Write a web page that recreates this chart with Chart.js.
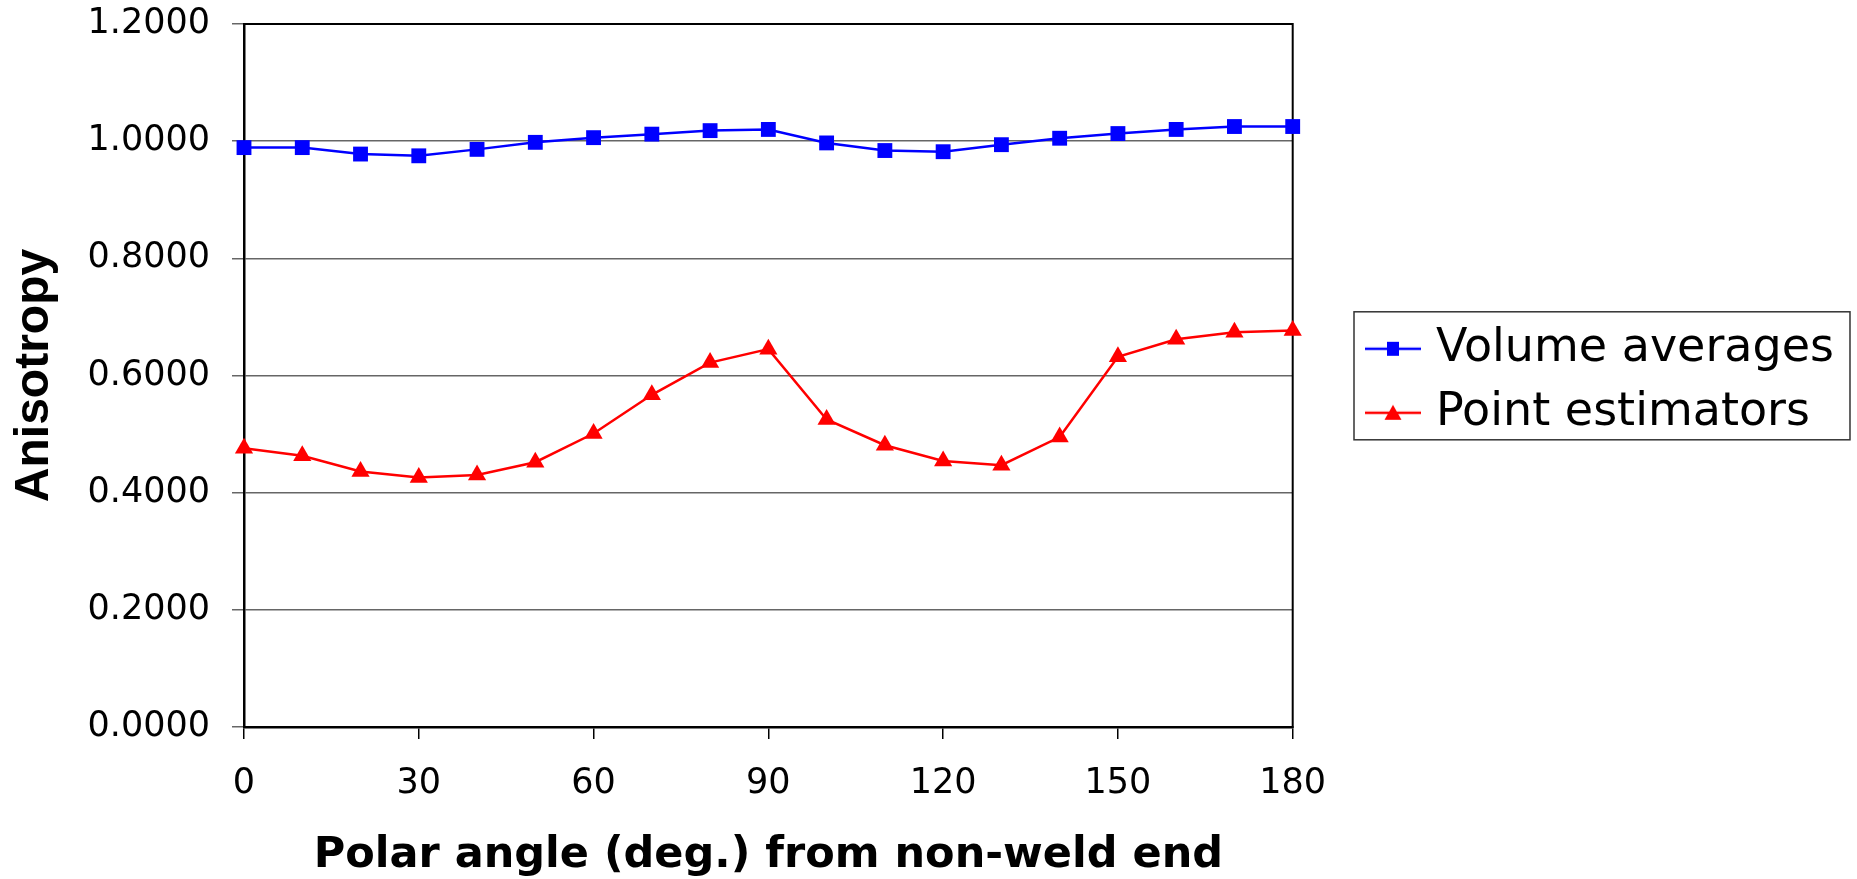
<!DOCTYPE html>
<html>

<head>
    <title>Anisotropy vs polar angle</title>
    <script src="https://cdn.jsdelivr.net/npm/chart.js@4.4.1/dist/chart.umd.min.js"></script>
    <style>
        html, body { margin: 0; padding: 0; background: #ffffff; }
        #wrap { width: 1857px; height: 879px; }
    </style>
</head>

<body>
    <div id="wrap"><canvas id="anisoChart" width="1857" height="879"></canvas></div>

    <script>
        // polar angle (deg.) from the non-weld end
        var angles = [0, 10, 20, 30, 40, 50, 60, 70, 80, 90, 100, 110, 120, 130, 140, 150, 160, 170, 180];
        var volumeAverages = [0.989, 0.989, 0.978, 0.975, 0.986, 0.998, 1.006, 1.012, 1.018, 1.020,
            0.997, 0.984, 0.982, 0.994, 1.005, 1.013, 1.020, 1.025, 1.025];
        var pointEstimators = [0.476, 0.463, 0.436, 0.426, 0.430, 0.452, 0.501, 0.567, 0.622, 0.645,
            0.525, 0.481, 0.454, 0.447, 0.495, 0.632, 0.662, 0.674, 0.677];
        var seriesNames = ['Volume averages', 'Point estimators'];
        var yTicks = [0, 0.2, 0.4, 0.6, 0.8, 1.0, 1.2];
        var xTicks = [0, 30, 60, 90, 120, 150, 180];

        var plotRight = 1292.7;
        var legendFont = { family: "'DejaVu Sans'", size: 46 };

        // little line-with-marker icons for the legend, Excel style
        function legendIcon(color, shape) {
            var c = document.createElement('canvas');
            c.width = 56; c.height = 18;
            var g = c.getContext('2d');
            g.strokeStyle = color; g.fillStyle = color; g.lineWidth = 2.5;
            g.beginPath(); g.moveTo(0, 9); g.lineTo(56, 9); g.stroke();
            if (shape === 'rect') {
                g.fillRect(22, 2, 12, 14);
            } else {
                g.beginPath(); g.moveTo(28, 1); g.lineTo(36.5, 16); g.lineTo(19.5, 16); g.closePath(); g.fill();
            }
            return c;
        }
        var icons = [legendIcon('#0000ff', 'rect'), legendIcon('#ff0000', 'tri')];

        // first guess at the right padding; corrected after the first layout
        var mctx = document.createElement('canvas').getContext('2d');
        mctx.font = legendFont.size + "px 'DejaVu Sans'";
        var textW = Math.max.apply(null, seriesNames.map(function (s) { return mctx.measureText(s).width; }));
        var legendPad = 18, iconBox = 40;
        var padRight = 1857 - plotRight - (legendPad + iconBox + legendFont.size / 2 + textW);

        var framePlugin = {
            id: 'frame',
            afterLayout: function (chart) {
                var lg = chart.legend;
                var dx = 1355 - lg.left, dy = 307.8 - lg.top;
                lg.left += dx; lg.top += dy;
                lg.right = 1857; lg.width = lg.right - lg.left;
            },
            beforeDatasetsDraw: function (chart) {
                var a = chart.chartArea, ctx = chart.ctx;
                ctx.save();
                ctx.strokeStyle = '#000000';
                ctx.lineWidth = 2;
                ctx.strokeRect(a.left, a.top, a.right - a.left, a.bottom - a.top);
                ctx.restore();
            },
            afterDraw: function (chart) {
                var hb = chart.legend.legendHitBoxes;
                if (!hb || !hb.length) return;
                var right = 0;
                hb.forEach(function (h) { right = Math.max(right, h.left + h.width); });
                var left = chart.legend.left - 1;
                var top = hb[0].top - 14;
                var bottom = hb[hb.length - 1].top + 50;
                var ctx = chart.ctx;
                ctx.save();
                ctx.strokeStyle = '#333333';
                ctx.lineWidth = 1.5;
                ctx.strokeRect(left, top, Math.min(right + 16, 1852) - left, bottom - top);
                ctx.restore();
            }
        };

        var ctx = document.getElementById('anisoChart').getContext('2d');
        var chart = new Chart(ctx, {
            type: 'line',
            data: {
                datasets: [{
                    label: seriesNames[0],
                    data: angles.map(function (a, i) { return { x: a, y: volumeAverages[i] }; }),
                    borderColor: '#0000ff',
                    backgroundColor: '#0000ff',
                    borderWidth: 2.5,
                    pointStyle: 'rect',
                    pointRadius: 10.5,
                    pointBorderWidth: 0,
                    tension: 0,
                    clip: false
                }, {
                    label: seriesNames[1],
                    data: angles.map(function (a, i) { return { x: a, y: pointEstimators[i] }; }),
                    borderColor: '#ff0000',
                    backgroundColor: '#ff0000',
                    borderWidth: 2.5,
                    pointStyle: 'triangle',
                    pointRadius: 10.5,
                    pointBorderWidth: 0,
                    tension: 0,
                    clip: false
                }]
            },
            options: {
                responsive: false,
                animation: false,
                layout: { padding: { top: 24, bottom: 0, left: 0, right: padRight } },
                plugins: {
                    tooltip: { enabled: false },
                    legend: {
                        position: 'right',
                        align: 'start',
                        maxWidth: 700,
                        labels: {
                            usePointStyle: true,
                            pointStyleWidth: iconBox,
                            padding: legendPad,
                            color: '#000000',
                            font: legendFont,
                            generateLabels: function (chart) {
                                var items = Chart.defaults.plugins.legend.labels.generateLabels(chart);
                                items.forEach(function (it, i) { it.pointStyle = icons[i]; });
                                return items;
                            }
                        }
                    }
                },
                scales: {
                    x: {
                        type: 'linear',
                        min: xTicks[0],
                        max: xTicks[xTicks.length - 1],
                        afterFit: function (s) { s.height = 152; s.paddingLeft = 0; s.paddingRight = 0; },
                        afterBuildTicks: function (s) { s.ticks = xTicks.map(function (v) { return { value: v }; }); },
                        grid: { drawOnChartArea: false, drawTicks: true, tickLength: 12, color: '#000000', lineWidth: 1.5 },
                        border: { color: '#000000', width: 2.5 },
                        ticks: {
                            padding: 24,
                            color: '#000000',
                            font: { family: "'DejaVu Sans'", size: 35 },
                            maxRotation: 0
                        },
                        title: {
                            display: true,
                            text: 'Polar angle (deg.) from non-weld end',
                            color: '#000000',
                            font: { family: "'DejaVu Sans'", size: 43, weight: 'bold', lineHeight: 1 },
                            padding: { top: 0, bottom: 2 }
                        }
                    },
                    y: {
                        min: yTicks[0],
                        max: yTicks[yTicks.length - 1],
                        afterFit: function (s) { s.width = 244; s.paddingTop = 0; s.paddingBottom = 0; },
                        afterBuildTicks: function (s) { s.ticks = yTicks.map(function (v) { return { value: v }; }); },
                        grid: { color: '#666666', lineWidth: 1.5, tickLength: 12 },
                        border: { color: '#000000', width: 2.5 },
                        ticks: {
                            padding: 22,
                            color: '#000000',
                            font: { family: "'DejaVu Sans'", size: 35 },
                            callback: function (v) { return Number(v).toFixed(4); }
                        },
                        title: {
                            display: true,
                            text: 'Anisotropy',
                            color: '#000000',
                            font: { family: "'Liberation Sans'", size: 48, weight: 'bold' },
                            padding: { top: 6, bottom: 0 }
                        }
                    }
                }
            },
            plugins: [framePlugin]
        });

        // nudge the right padding so the plot ends where the reference's does
        var off = plotRight - chart.chartArea.right;
        if (Math.abs(off) > 0.5) {
            chart.options.layout.padding.right -= off;
            chart.update();
        }
    </script>
</body>

</html>
